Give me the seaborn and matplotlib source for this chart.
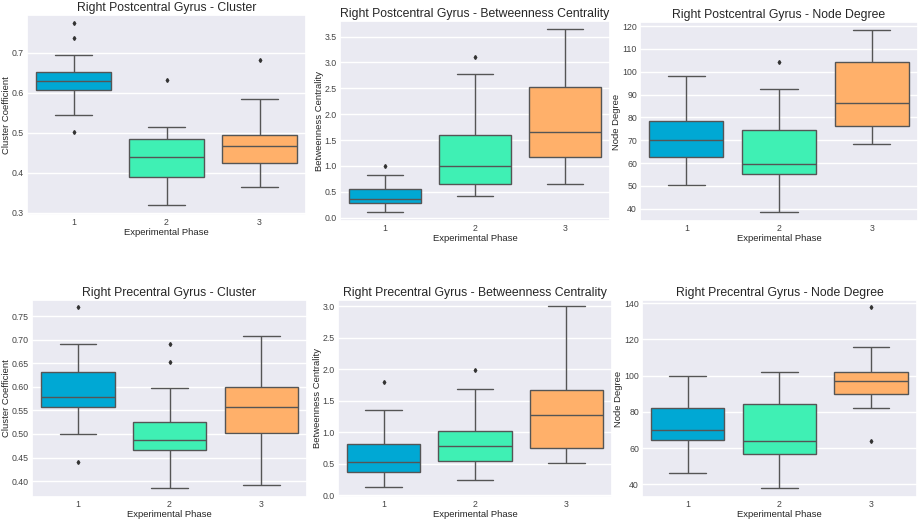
import numpy as np
import pandas as pd
import matplotlib
matplotlib.use("Agg")
import matplotlib.pyplot as plt
import seaborn as sns

phases = ["1", "2", "3"]
palette = ["#00A8D4", "#3FF0B4", "#FFB06A"]

# box summaries (one entry per phase)
post_cluster = {
    "lo": [0.545, 0.318, 0.363],
    "q1": [0.6065, 0.389, 0.425],
    "med": [0.630, 0.439, 0.467],
    "q3": [0.652, 0.483, 0.494],
    "hi": [0.694, 0.514, 0.584],
    "fliers": [[0.502, 0.736, 0.773], [0.632], [0.681]],
}
post_between = {
    "lo": [0.117, 0.421, 0.642],
    "q1": [0.285, 0.655, 1.173],
    "med": [0.363, 0.992, 1.659],
    "q3": [0.551, 1.594, 2.521],
    "hi": [0.83, 2.774, 3.649],
    "fliers": [[1.005], [3.104], []],
}
post_degree = {
    "lo": [50.3, 38.4, 68.2],
    "q1": [62.5, 55.1, 76.4],
    "med": [70.2, 59.4, 86.2],
    "q3": [78.3, 74.3, 104.1],
    "hi": [98.1, 92.4, 118.1],
    "fliers": [[], [104.3], []],
}
pre_cluster = {
    "lo": [0.499, 0.386, 0.392],
    "q1": [0.557, 0.467, 0.503],
    "med": [0.579, 0.488, 0.557],
    "q3": [0.632, 0.525, 0.599],
    "hi": [0.692, 0.598, 0.708],
    "fliers": [[0.440, 0.771], [0.654, 0.692], []],
}
pre_between = {
    "lo": [0.121, 0.243, 0.511],
    "q1": [0.364, 0.548, 0.754],
    "med": [0.532, 0.775, 1.271],
    "q3": [0.812, 1.018, 1.677],
    "hi": [1.355, 1.687, 3.0],
    "fliers": [[1.803], [1.993], []],
}
pre_degree = {
    "lo": [46.3, 37.8, 82.1],
    "q1": [64.4, 56.5, 90.0],
    "med": [70.0, 63.9, 96.8],
    "q3": [82.1, 84.5, 102.1],
    "hi": [99.9, 102.1, 115.9],
    "fliers": [[], [], [63.9, 137.8]],
}


def phase_sample(s, i):
    # 13 values whose quartiles, whiskers and fliers reproduce the box
    low = [f for f in s["fliers"][i] if f < s["q1"][i]]
    high = [f for f in s["fliers"][i] if f > s["q3"][i]]
    below = low + [s["lo"][i]] + [s["q1"][i]] * (2 - len(low))
    above = [s["q3"][i]] * (2 - len(high)) + [s["hi"][i]] + high
    q1, med, q3 = s["q1"][i], s["med"][i], s["q3"][i]
    return below + [q1, q1, med, med, med, q3, q3] + above


def to_frame(s):
    rows = []
    for i, p in enumerate(phases):
        for v in phase_sample(s, i):
            rows.append({"phase": p, "value": v})
    return pd.DataFrame(rows)


panels = [
    (post_cluster, "Right Postcentral Gyrus - Cluster", "Cluster Coefficient",
     (0.294, 0.794), [0.3, 0.4, 0.5, 0.6, 0.7], "{:.1f}", (27, 15, 306, 215)),
    (post_between, "Right Postcentral Gyrus - Betweenness Centrality", "Betweenness Centrality",
     (-0.065, 3.80), [0.0, 0.5, 1.0, 1.5, 2.0, 2.5, 3.0, 3.5], "{:.1f}", (340, 21, 610, 221)),
    (post_degree, "Right Postcentral Gyrus - Node Degree", "Node Degree",
     (34.6, 121.8), list(range(40, 121, 10)), "{:.0f}", (640, 22, 918, 221)),
    (pre_cluster, "Right Precentral Gyrus - Cluster", "Cluster Coefficient",
     (0.366, 0.785), [0.40, 0.45, 0.50, 0.55, 0.60, 0.65, 0.70, 0.75], "{:.2f}", (32, 300, 307, 497)),
    (pre_between, "Right Precentral Gyrus - Betweenness Centrality", "Betweenness Centrality",
     (-0.03, 3.10), [0.0, 0.5, 1.0, 1.5, 2.0, 2.5, 3.0], "{:.1f}", (338, 300, 612, 497)),
    (pre_degree, "Right Precentral Gyrus - Node Degree", "Node Degree",
     (33.0, 141.8), [40, 60, 80, 100, 120, 140], "{:.0f}", (642, 300, 917, 497)),
]

sns.set_theme(style="darkgrid")
plt.rcParams["font.family"] = ["Liberation Sans", "DejaVu Sans"]

W, H = 920, 522
fig = plt.figure(figsize=(W / 100, H / 100), dpi=100)

for stats, title, ylabel, ylim, yticks, fmt, (x0, y0, x1, y1) in panels:
    ax = fig.add_axes([x0 / W, 1 - y1 / H, (x1 - x0) / W, (y1 - y0) / H])
    df = to_frame(stats)
    sns.boxplot(
        data=df, x="phase", y="value", hue="phase", order=phases,
        palette=palette, saturation=1, legend=False, ax=ax, width=0.8,
        linecolor="#555555", linewidth=1.0, fliersize=2,
        flierprops={"marker": "d", "markerfacecolor": "#333333", "markeredgecolor": "#333333"},
    )
    ax.set_ylim(*ylim)
    ax.set_yticks(yticks)
    ax.set_yticklabels([fmt.format(t) for t in yticks])
    ax.set_title(title, fontsize=8.8, pad=3)
    ax.set_xlabel("Experimental Phase", fontsize=6.8, labelpad=1)
    ax.set_ylabel(ylabel, fontsize=6.8, labelpad=0.5)
    ax.tick_params(axis="both", labelsize=6.3, length=0, pad=2.2, colors="#444444")

fig.savefig("out.png", dpi=100)
